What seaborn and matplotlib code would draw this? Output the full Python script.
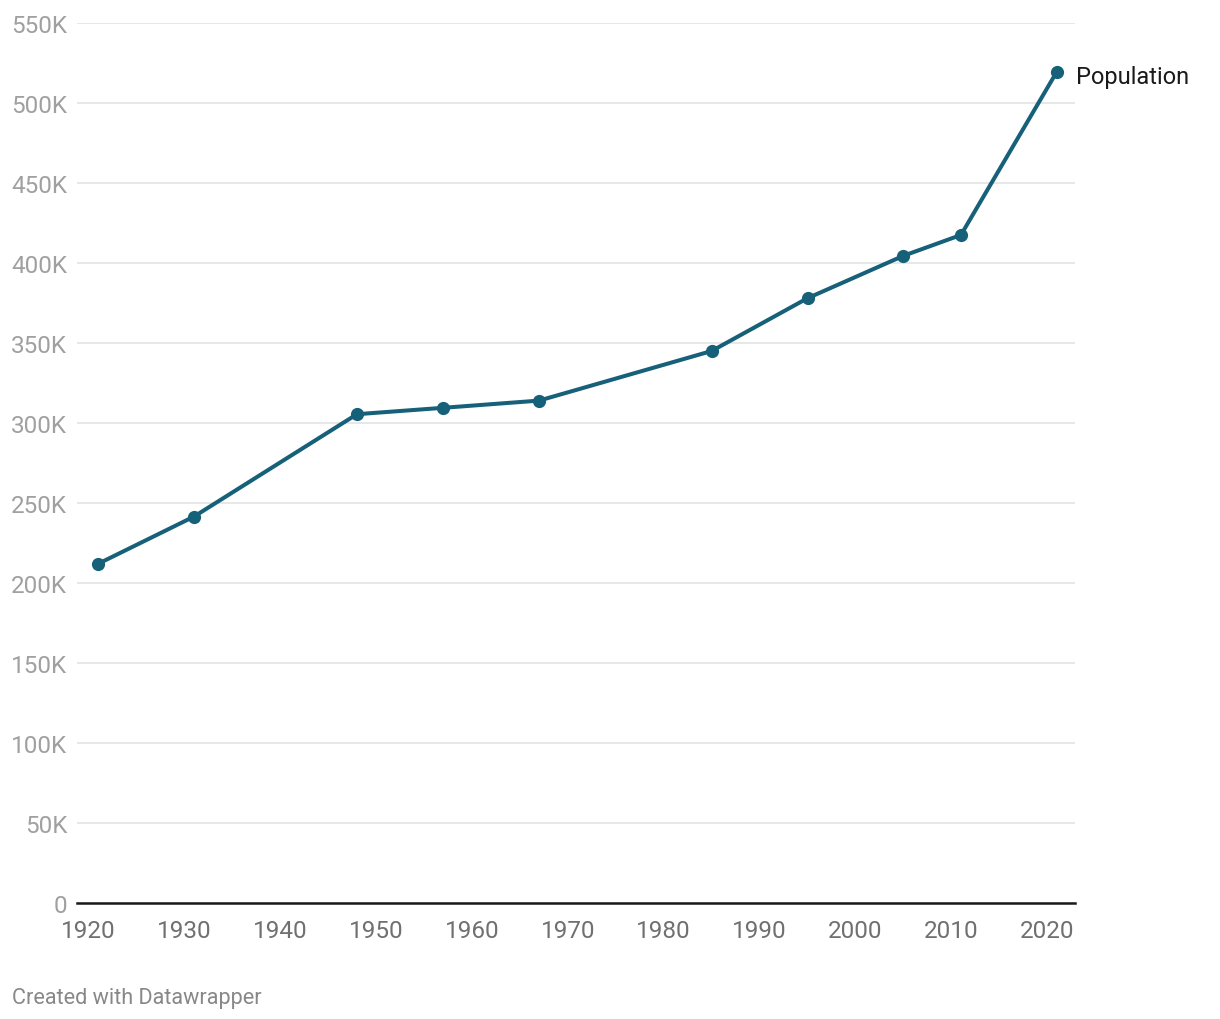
import matplotlib
matplotlib.use("Agg")
import matplotlib.pyplot as plt
import matplotlib.ticker as mticker
import seaborn as sns
import pandas as pd

# Data
years = [1921, 1931, 1948, 1957, 1967, 1985, 1995, 2005, 2011, 2021]
population = [212000, 241500, 305500, 309500, 314000, 345000, 378000, 404500, 417500, 519500]
y_ticks = [0, 50000, 100000, 150000, 200000, 250000, 300000, 350000, 400000, 450000, 500000, 550000]
x_ticks = [1920, 1930, 1940, 1950, 1960, 1970, 1980, 1990, 2000, 2010, 2020]

df = pd.DataFrame({"Year": years, "Population": population})

sns.set_style("white")
plt.rcParams["font.family"] = ["Roboto", "DejaVu Sans"]

line_color = "#17607a"

fig = plt.figure(figsize=(12.2, 10.2), dpi=100)
ax = fig.add_axes([77 / 1220, 1 - 904 / 1020, (1075 - 77) / 1220, (904 - 24) / 1020])

sns.lineplot(data=df, x="Year", y="Population", ax=ax, color=line_color,
             linewidth=2.9, marker="o", markersize=9.5, markeredgewidth=0, clip_on=False)

ax.set_xlim(1918.8, 2022.9)
ax.set_ylim(0, 550000)
ax.set_yticks(y_ticks)
ax.set_xticks(x_ticks)
ax.yaxis.set_major_formatter(mticker.FuncFormatter(lambda v, p: "0" if v == 0 else f"{int(v / 1000)}K"))

ax.grid(axis="y", color="#e3e3e3", linewidth=1.2)
ax.set_axisbelow(True)
for s in ["top", "right", "left"]:
    ax.spines[s].set_visible(False)
ax.spines["bottom"].set_color("#1a1a1a")
ax.spines["bottom"].set_linewidth(1.8)

ax.tick_params(axis="y", length=0, pad=7, labelsize=17.5, labelcolor="#a0a0a0")
ax.tick_params(axis="x", length=0, pad=11.5, labelsize=17.5, labelcolor="#707070")
ax.set_xlabel("")
ax.set_ylabel("")

ax.text(years[-1] + 2.0, population[-1] - 3000, "Population", fontsize=17,
        color="#1a1a1a", va="center", ha="left", clip_on=False)

fig.text(12 / 1220, 1 - 999 / 1020, "Created with Datawrapper", fontsize=15.6,
         color="#888888", va="center", ha="left")

fig.savefig("out.png", dpi=100)
